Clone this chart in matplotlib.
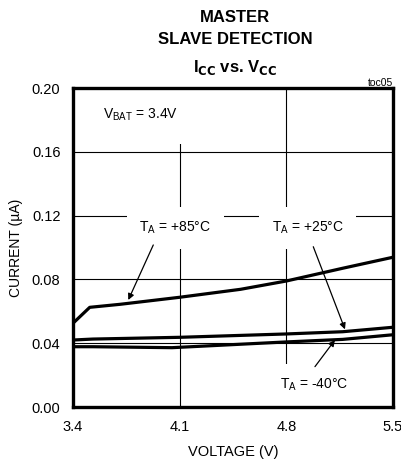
import matplotlib
matplotlib.use('Agg')
import matplotlib.pyplot as plt

plt.rcParams['font.family'] = ['Liberation Sans Narrow', 'Liberation Sans', 'DejaVu Sans']
plt.rcParams['mathtext.fontset'] = 'custom'
plt.rcParams['mathtext.rm'] = 'Liberation Sans Narrow'
plt.rcParams['mathtext.bf'] = 'Liberation Sans Narrow:bold'

# supply current vs supply voltage, three temperatures
v_85 = [3.4, 3.51, 3.71, 4.1, 4.5, 4.8, 5.17, 5.5]
i_85 = [0.0525, 0.0625, 0.0644, 0.0688, 0.0738, 0.079, 0.087, 0.0939]
v_25 = [3.4, 3.53, 4.1, 4.8, 5.17, 5.5]
i_25 = [0.042, 0.0426, 0.0437, 0.0458, 0.0472, 0.050]
v_40 = [3.4, 3.53, 4.05, 4.8, 5.17, 5.5]
i_40 = [0.0378, 0.0378, 0.0372, 0.0408, 0.0424, 0.0453]

x_ticks = [3.4, 4.1, 4.8, 5.5]
y_ticks = [0.00, 0.04, 0.08, 0.12, 0.16, 0.20]

fig = plt.figure(figsize=(4.01, 4.66), dpi=100)
ax = fig.add_axes([0.182, 0.1266, 0.798, 0.6845])

ax.set_xlim(3.4, 5.5)
ax.set_ylim(0, 0.2)
ax.set_xticks(x_ticks)
ax.set_xticklabels([f'{t:.1f}' for t in x_ticks])
ax.set_yticks(y_ticks)
ax.set_yticklabels([f'{t:.2f}' for t in y_ticks])
ax.tick_params(length=0, labelsize=10.5, pad=9)
ax.grid(True, color='black', linewidth=0.8)
ax.set_axisbelow(True)
for s in ax.spines.values():
    s.set_linewidth(2.4)

for v, i in [(v_85, i_85), (v_25, i_25), (v_40, i_40)]:
    ax.plot(v, i, color='black', linewidth=2.3, zorder=3)

box = dict(facecolor='white', edgecolor='none', boxstyle='square,pad=0.9')
ax.text(3.84, 0.183, r'V$_\mathregular{BAT}$ = 3.4V', fontsize=10, ha='center', va='center',
        bbox=dict(facecolor='white', edgecolor='none', boxstyle='square,pad=1.5'), zorder=2)
ax.text(4.07, 0.1122, r'T$_\mathregular{A}$ = +85°C', fontsize=10, ha='center', va='center', bbox=box, zorder=2)
ax.text(4.94, 0.1122, r'T$_\mathregular{A}$ = +25°C', fontsize=10, ha='center', va='center', bbox=box, zorder=2)
ax.text(4.98, 0.0138, r'T$_\mathregular{A}$ = -40°C', fontsize=10, ha='center', va='center', bbox=box, zorder=2)

arrow = dict(arrowstyle='-|>', color='black', linewidth=0.9, mutation_scale=9, shrinkA=0, shrinkB=0)
ax.annotate('', xy=(3.763, 0.0671), xytext=(3.927, 0.1016), arrowprops=arrow, zorder=4)
ax.annotate('', xy=(5.185, 0.0487), xytext=(4.977, 0.1005), arrowprops=arrow, zorder=4)
ax.annotate('', xy=(5.119, 0.042), xytext=(4.988, 0.0253), arrowprops=arrow, zorder=4)

ax.set_xlabel('VOLTAGE (V)', fontsize=10.5, labelpad=8)
ax.set_ylabel('CURRENT (µA)', fontsize=10, labelpad=6)

fig.text(0.586, 0.962, 'MASTER', fontsize=12, fontweight='bold', ha='center', va='center')
fig.text(0.586, 0.915, 'SLAVE DETECTION', fontsize=12, fontweight='bold', ha='center', va='center')
fig.text(0.586, 0.855, r'I$_\mathbf{CC}$ vs. V$_\mathbf{CC}$', fontsize=12, fontweight='bold',
         ha='center', va='center')
fig.text(0.98, 0.822, 'toc05', fontsize=7.5, ha='right', va='center')

fig.savefig('out.png', dpi=100)
